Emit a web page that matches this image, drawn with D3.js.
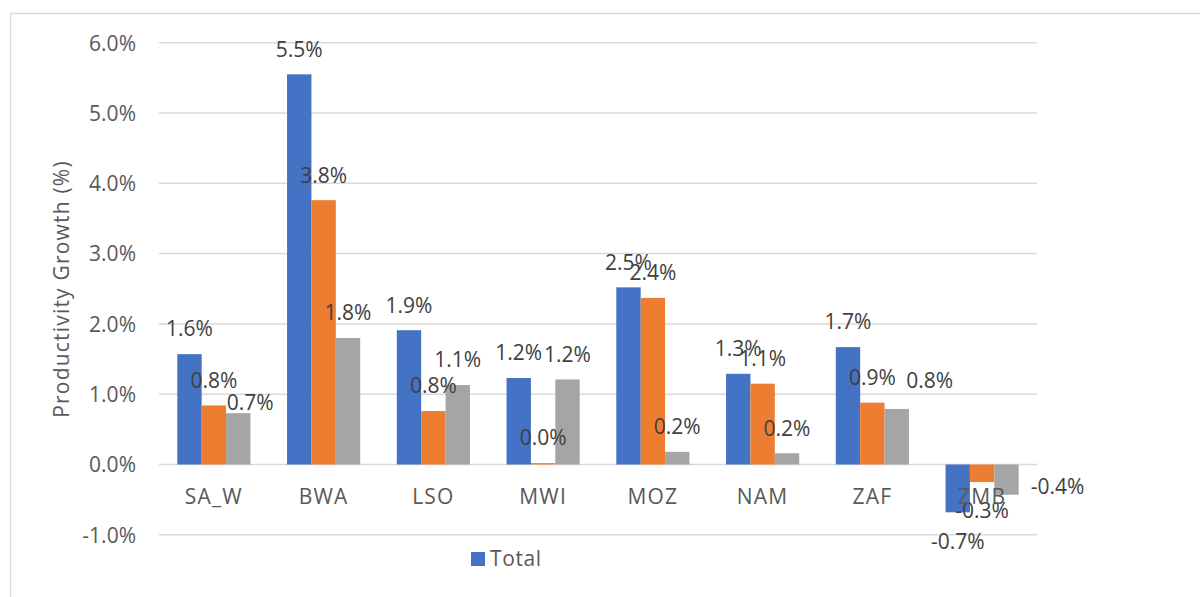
<!DOCTYPE html>
<html>
<head>
<meta charset="utf-8">
<script src="https://cdn.jsdelivr.net/npm/d3@7"></script>
<style>
  body { margin: 0; background: #fff; }
  svg text { font-family: "Open Sans", "Segoe UI", sans-serif; }
</style>
</head>
<body>
<div id="chart"></div>
<script>
// data (percent)
var categories = ['SA_W', 'BWA', 'LSO', 'MWI', 'MOZ', 'NAM', 'ZAF', 'ZMB'];
var seriesNames = ['Total', 'Series2', 'Series3'];
var totalValues = [1.57, 5.55, 1.91, 1.23, 2.52, 1.29, 1.67, -0.68];
var series2Values = [0.84, 3.76, 0.76, 0.02, 2.37, 1.15, 0.88, -0.25];
var series3Values = [0.73, 1.80, 1.13, 1.21, 0.18, 0.16, 0.79, -0.43];
var yTicks = [-1, 0, 1, 2, 3, 4, 5, 6];
var colors = ['#4472C4', '#ED7D31', '#A5A5A5'];

// a few data labels were dragged aside in the original
var labelNudge = { 'Series3|SA_W': [12, 14], 'Series3|ZAF': [33, -3], 'Series3|ZMB': [51, -37] };

var width = 1200, height = 597;
var svg = d3.select('#chart').append('svg')
    .attr('width', width)
    .attr('height', height);

// chart area frame (runs off the right and bottom of the picture)
svg.append('path')
    .attr('d', 'M10.5,' + (height + 2) + 'V13.5H' + (width + 2))
    .attr('fill', 'none')
    .attr('stroke', '#d9d9d9')
    .attr('stroke-width', 1.5);

var x0 = d3.scaleBand().domain(categories).range([159, 1037])
    .paddingInner(1 / 3).paddingOuter(1 / 6);
var x1 = d3.scaleBand().domain(seriesNames).range([0, x0.bandwidth()]);
var y = d3.scaleLinear().domain([-1, 6]).range([534.8, 42.7]);

// gridlines
svg.append('g')
    .selectAll('line')
    .data(yTicks)
    .join('line')
    .attr('x1', 159).attr('x2', 1037)
    .attr('y1', function(d) { return y(d); })
    .attr('y2', function(d) { return y(d); })
    .attr('stroke', '#d9d9d9')
    .attr('stroke-width', 1.5);

// y axis labels
var yAxis = svg.append('g')
    .attr('transform', 'translate(136,0)')
    .call(d3.axisLeft(y).tickValues(yTicks).tickSize(0).tickPadding(0)
        .tickFormat(function(d) { return d.toFixed(1) + '%'; }));
yAxis.select('.domain').remove();
yAxis.selectAll('text')
    .attr('fill', '#595959')
    .style('font-size', '21px')
    .attr('dy', '0.35em');

// axis title
svg.append('text')
    .attr('transform', 'translate(62,289) rotate(-90)')
    .attr('text-anchor', 'middle')
    .attr('dy', '0.35em')
    .attr('fill', '#595959')
    .style('font-size', '21px')
    .style('letter-spacing', '1.2px')
    .text('Productivity Growth (%)');

var rows = categories.map(function(c, i) {
    return {
        cat: c,
        vals: [totalValues[i], series2Values[i], series3Values[i]].map(function(v, k) {
            return { cat: c, name: seriesNames[k], value: v, color: colors[k] };
        })
    };
});

var groups = svg.append('g')
    .selectAll('g')
    .data(rows)
    .join('g')
    .attr('transform', function(d) { return 'translate(' + x0(d.cat) + ',0)'; });

groups.selectAll('rect')
    .data(function(d) { return d.vals; })
    .join('rect')
    .attr('x', function(d) { return x1(d.name); })
    .attr('width', x1.bandwidth())
    .attr('y', function(d) { return y(Math.max(0, d.value)); })
    .attr('height', function(d) { return Math.abs(y(d.value) - y(0)); })
    .attr('fill', function(d) { return d.color; });

groups.selectAll('text')
    .data(function(d) { return d.vals; })
    .join('text')
    .attr('x', function(d) {
        var n = labelNudge[d.name + '|' + d.cat];
        return x1(d.name) + x1.bandwidth() / 2 + (n ? n[0] : 0);
    })
    .attr('y', function(d) {
        var n = labelNudge[d.name + '|' + d.cat];
        var off = d.value < 0 ? 29 : -25;
        return y(d.value) + off + (n ? n[1] : 0);
    })
    .attr('dy', '0.35em')
    .attr('text-anchor', 'middle')
    .attr('fill', '#404040')
    .style('font-size', '21px')
    .text(function(d) { return d.value.toFixed(1) + '%'; });

// x axis labels sit on top of the bars (ZMB label overlaps them)
var xAxis = svg.append('g')
    .attr('transform', 'translate(0,' + y(0) + ')')
    .call(d3.axisBottom(x0).tickSize(0).tickPadding(0));
xAxis.select('.domain').remove();
xAxis.selectAll('text')
    .attr('fill', '#595959')
    .style('font-size', '21px')
    .style('letter-spacing', '1.2px')
    .attr('y', 32)
    .attr('dy', '0.35em');

// legend (only the first series is shown)
var legend = svg.append('g').attr('transform', 'translate(471,552)');
legend.append('rect')
    .attr('width', 14).attr('height', 14)
    .attr('fill', colors[0]);
legend.append('text')
    .attr('x', 19).attr('y', 7)
    .attr('dy', '0.35em')
    .attr('fill', '#595959')
    .style('font-size', '21px')
    .style('letter-spacing', '0.6px')
    .text(seriesNames[0]);
</script>
</body>
</html>
